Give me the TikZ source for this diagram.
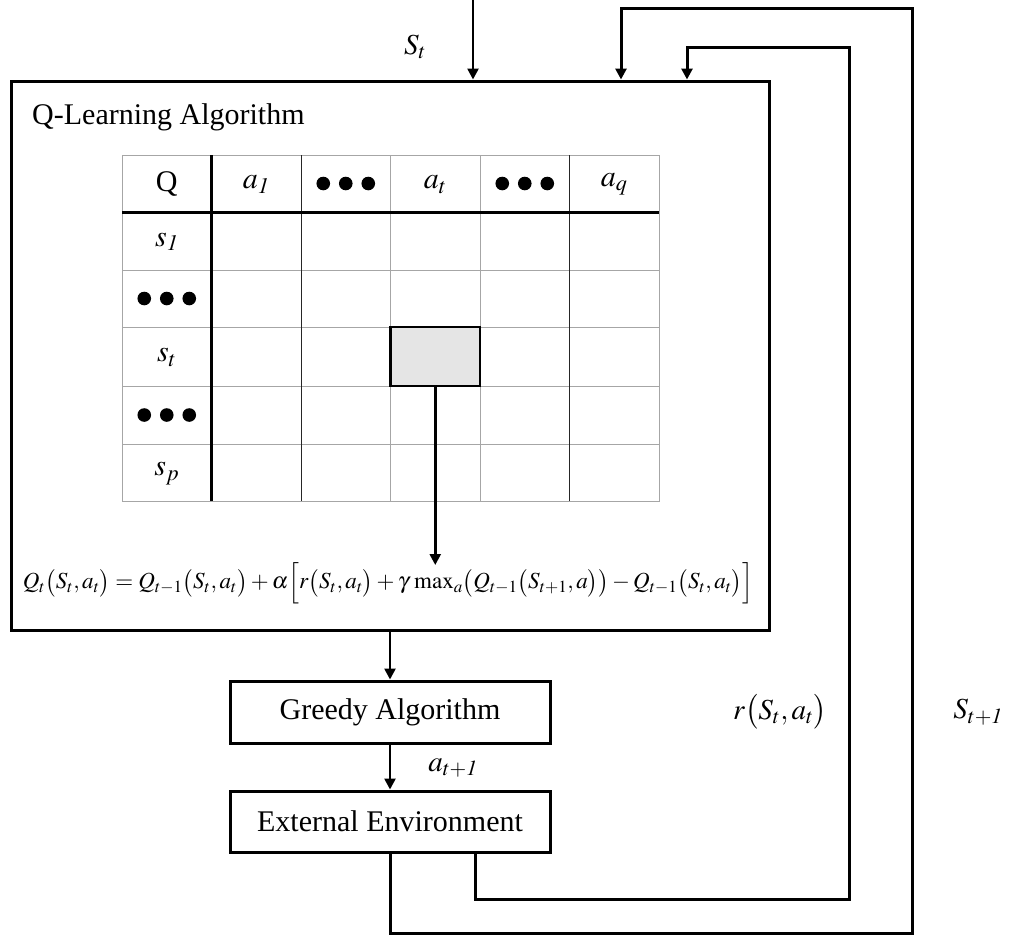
\documentclass[tikz,border=0pt]{standalone}
\usepackage{mathptmx}
\usepackage{fontspec}
\setmainfont{Liberation Serif}
\usetikzlibrary{arrows.meta}
\begin{document}
\begin{tikzpicture}[x=1pt,y=-1pt,
  arr/.style={line width=2.5pt,-{Triangle[length=11pt,width=11pt]}},
  loopline/.style={line width=3pt,line join=miter,-{Triangle[length=11pt,width=11pt]}},
  boxnode/.style={draw,line width=3pt,inner sep=0pt,font=\fontsize{30}{36}\selectfont},
  txt/.style={inner sep=0pt,font=\fontsize{30}{36}\selectfont},
  lbl/.style={inner sep=0pt,font=\fontsize{29}{34}\selectfont},
  thingrid/.style={line width=1pt,draw=gray!70},
  darkgrid/.style={line width=1pt,draw=black!85},
  thickgrid/.style={line width=3pt,draw=black},
  tripledot/.pic={\fill (-22.5,0) circle (6.8); \fill (0,0) circle (6.8); \fill (22.5,0) circle (6.8);}
]
\useasboundingbox (0,0) rectangle (1009,937);

% main box
\node[draw,line width=3pt,minimum width=758pt,minimum height=549pt,inner sep=0pt] (qbox) at (390,355.5) {};
\node[txt,anchor=west] (qtitle) at (32,117) {Q-Learning Algorithm};

% table grid
\draw[thingrid] (122,155) rectangle (659,501);
\foreach \y in {270,327,386,444} \draw[thingrid] (122,\y) -- (659,\y);
\foreach \x in {390.5,480} \draw[thingrid] (\x,155) -- (\x,501);
\foreach \x in {301,569.5} \draw[darkgrid] (\x,155) -- (\x,501);
\draw[thickgrid] (211.5,155) -- (211.5,501);
\draw[thickgrid] (122,212) -- (659,212);

% header
\node[txt] (hq) at (166.75,183.5) {Q};
\node[txt] (ha1) at (256.25,184.5) {$a_{\mathit{1}}$};
\pic at (345.75,183.5) {tripledot};
\node[txt] (hat) at (435.25,184.5) {$a_t$};
\pic at (524.75,183.5) {tripledot};
\node[txt] (haq) at (614.25,184.5) {$a_q$};
% rows
\node[txt] (rs1) at (166.75,242) {$s_{\mathit{1}}$};
\pic at (166.75,298.5) {tripledot};
\node[txt] (rst) at (166.75,357.5) {$s_t$};
\pic at (166.75,415) {tripledot};
\node[txt] (rsp) at (166.75,473.5) {$s_p$};

% highlighted cell
\node[draw,line width=2.5pt,fill=gray!20,minimum width=89.5pt,minimum height=59pt,inner sep=0pt] (hl) at (435.25,356.5) {};

% formula
\node[inner sep=0pt,font=\fontsize{23}{28}\selectfont] (formula) at (388,583)
 {$Q_t\bigl(S_t,a_t\bigr)=Q_{t-1}\bigl(S_t,a_t\bigr)+\alpha\Bigl[r\bigl(S_t,a_t\bigr)+\gamma\,\max\nolimits_a\bigl(Q_{t-1}\bigl(S_{t+1},a\bigr)\bigr)-Q_{t-1}\bigl(S_t,a_t\bigr)\Bigr]$};
\coordinate (ftip) at (435.25,565);
\draw[arr] (hl.south) -- (ftip);

% lower boxes
\node[boxnode,minimum width=320pt,minimum height=62pt] (greedy) at (390,712) {Greedy Algorithm};
\node[boxnode,minimum width=320pt,minimum height=61pt] (env) at (390,821.5) {External Environment};
\draw[arr] (qbox.south -| greedy.north) -- (greedy.north);
\draw[arr] (greedy.south) -- (env.north);
\node[lbl] (lat1) at (453,768) {$a_{t+\mathit{1}}$};

% input S_t
\coordinate (sttop) at (473,0);
\draw[arr] (sttop) -- (sttop |- qbox.north);
\node[lbl] (lst) at (415,47) {$S_t$};

% outer loop (S_{t+1})
\coordinate (ob) at (912,933);
\coordinate (ot) at (621,8);
\draw[loopline] (env.south) |- (ob) |- (ot) -- (ot |- qbox.north);
% inner loop (reward)
\coordinate (ib0) at (475,852);
\coordinate (ib) at (849,899);
\coordinate (it) at (687,47);
\draw[loopline] (ib0 |- env.south) |- (ib) |- (it) -- (it |- qbox.north);

\node[lbl] (lr) at (780,712) {$r\bigl(S_t,a_t\bigr)$};
\node[lbl] (lst1) at (978,712) {$S_{t+\mathit{1}}$};
\end{tikzpicture}
\end{document}
